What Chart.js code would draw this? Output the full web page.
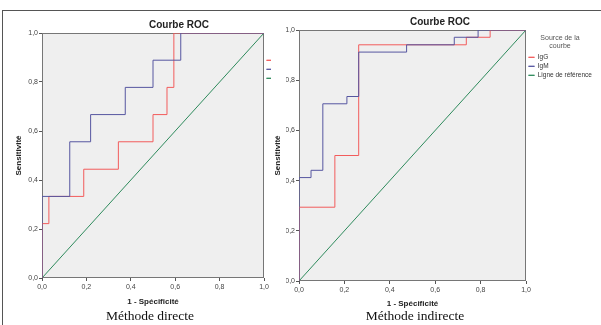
<!DOCTYPE html>
<html>
<head>
<meta charset="utf-8">
<script src="https://cdn.jsdelivr.net/npm/chart.js@4/dist/chart.umd.min.js"></script>
<style>
  html, body { margin: 0; padding: 0; background: #fff; width: 601px; height: 325px; overflow: hidden; position: relative; }
  canvas { position: absolute; top: 11px; }
  #c1 { left: 0; }
  #c2 { left: 271px; background: #fff; }
  .frame { position: absolute; left: 2px; top: 10px; width: 700px; height: 400px; border-left: 1px solid #555; border-top: 1.5px solid #555; pointer-events: none; z-index: 5; }
  .caption { position: absolute; top: 308px; font-family: 'Liberation Serif', 'Times New Roman', serif; font-size: 13.5px; color: #111; transform: translateX(-50%); white-space: nowrap; }
</style>
</head>
<body>
<canvas id="c1" width="340" height="314"></canvas>
<canvas id="c2" width="330" height="314"></canvas>
<div class="frame"></div>
<div class="caption" style="left:150px">Méthode directe</div>
<div class="caption" style="left:415px">Méthode indirecte</div>
<script>
const seriesNames = ['IgG', 'IgM', 'Ligne de référence'];
const tickLabels = ['0,0', '0,2', '0,4', '0,6', '0,8', '1,0'];

// Méthode directe (1 - spécificité / sensibilité)
const directIgGX = [0, 0, 0.031, 0.031, 0.188, 0.188, 0.344, 0.344, 0.5, 0.5, 0.563, 0.563, 0.594, 0.594, 1];
const directIgGY = [0, 0.222, 0.222, 0.333, 0.333, 0.444, 0.444, 0.556, 0.556, 0.667, 0.667, 0.778, 0.778, 1, 1];
const directIgMX = [0, 0, 0.125, 0.125, 0.219, 0.219, 0.375, 0.375, 0.5, 0.5, 0.625, 0.625, 1];
const directIgMY = [0, 0.333, 0.333, 0.556, 0.556, 0.667, 0.667, 0.778, 0.778, 0.889, 0.889, 1, 1];

// Méthode indirecte
const indirectIgGX = [0, 0, 0.158, 0.158, 0.263, 0.263, 0.737, 0.737, 0.842, 0.842, 1];
const indirectIgGY = [0, 0.294, 0.294, 0.5, 0.5, 0.941, 0.941, 0.971, 0.971, 1, 1];
const indirectIgMX = [0, 0, 0.053, 0.053, 0.105, 0.105, 0.211, 0.211, 0.263, 0.263, 0.474, 0.474, 0.684, 0.684, 0.789, 0.789, 1];
const indirectIgMY = [0, 0.412, 0.412, 0.441, 0.441, 0.706, 0.706, 0.735, 0.735, 0.912, 0.912, 0.941, 0.941, 0.971, 0.971, 1, 1];

// ligne de référence
const refX = [0, 1];
const refY = [0, 1];

const RED = '#f25c5c';
const BLUE = '#5656a0';
const GREEN = '#2e8a5c';
const FONT = "'Liberation Sans', Arial, sans-serif";

const points = (xs, ys) => xs.map((x, i) => ({ x: x, y: ys[i] }));

// plot background + frame, drawn under the curves
const plotFrame = {
  id: 'plotFrame',
  beforeDatasetsDraw(chart) {
    const { ctx, chartArea: a } = chart;
    ctx.save();
    ctx.fillStyle = '#efefef';
    ctx.fillRect(a.left, a.top, a.width, a.height);
    ctx.strokeStyle = '#767676';
    ctx.lineWidth = 1;
    ctx.strokeRect(Math.round(a.left) + 0.5, Math.round(a.top) + 0.5, Math.round(a.width) - 1, Math.round(a.height) - 1);
    ctx.restore();
  }
};

function axis(titleText, titlePadding, fitSize, horizontal) {
  return {
    type: 'linear',
    min: 0,
    max: 1,
    border: { display: false },
    grid: { drawOnChartArea: false, tickLength: 3, color: '#555', tickColor: '#555' },
    ticks: {
      stepSize: 0.2,
      padding: horizontal ? 2 : 1,
      color: '#444',
      font: { family: FONT, size: 7 },
      maxRotation: 0,
      callback: (v, i) => tickLabels[i]
    },
    title: {
      display: true,
      text: titleText,
      color: '#222',
      font: { family: FONT, size: 8, weight: 'bold' },
      padding: titlePadding
    },
    afterFit: (s) => { if (horizontal) s.height = fitSize; else s.width = fitSize; }
  };
}

function rocChart(id, igG, igM, g) {
  return new Chart(document.getElementById(id), {
    type: 'line',
    data: {
      datasets: [
        { label: seriesNames[0], data: points(igG[0], igG[1]), borderColor: RED, backgroundColor: RED, order: 1 },
        { label: seriesNames[1], data: points(igM[0], igM[1]), borderColor: BLUE, backgroundColor: BLUE, order: 0 },
        { label: seriesNames[2], data: points(refX, refY), borderColor: GREEN, backgroundColor: GREEN, order: 2 }
      ]
    },
    options: {
      responsive: false,
      animation: false,
      elements: {
        line: { borderWidth: 1, tension: 0, fill: false },
        point: { radius: 0 }
      },
      layout: { padding: { left: g.padL, right: g.padR, top: 0, bottom: 0 } },
      scales: {
        x: axis('1 - Spécificité', { top: 0, bottom: g.xTitlePad }, g.xH, true),
        y: axis('Sensitivité', { top: g.yTitlePad, bottom: 0 }, g.yW, false)
      },
      plugins: {
        title: {
          display: true,
          text: 'Courbe ROC',
          color: '#222',
          font: { family: FONT, size: 10, weight: 'bold', lineHeight: 1.2 },
          padding: { top: g.titleTop, bottom: g.titleBottom }
        },
        legend: {
          position: 'right',
          align: 'start',
          fullSize: false,
          maxWidth: 68,
          labels: {
            boxWidth: 6,
            boxHeight: 0,
            padding: 2.5,
            color: '#333',
            font: { family: FONT, size: 6.5 },
            sort: (a, b) => a.datasetIndex - b.datasetIndex
          },
          title: {
            display: true,
            text: ['Source de la', 'courbe'],
            color: '#555',
            font: { family: FONT, size: 7, lineHeight: 1.15 },
            padding: { top: 4.8, bottom: 8.7 }
          }
        },
        tooltip: { enabled: false }
      }
    },
    plugins: [plotFrame]
  });
}

rocChart('c1', [directIgGX, directIgGY], [directIgMX, directIgMY],
  { padL: 26, padR: 8, yW: 16, xH: 47, titleTop: 8, titleBottom: 2, yTitlePad: -12.3, xTitlePad: 18.5 });

rocChart('c2', [indirectIgGX, indirectIgGY], [indirectIgMX, indirectIgMY],
  { padL: 15, padR: 7, yW: 13, xH: 44, titleTop: 5, titleBottom: 2, yTitlePad: -13.3, xTitlePad: 16.2 });
</script>
</body>
</html>
